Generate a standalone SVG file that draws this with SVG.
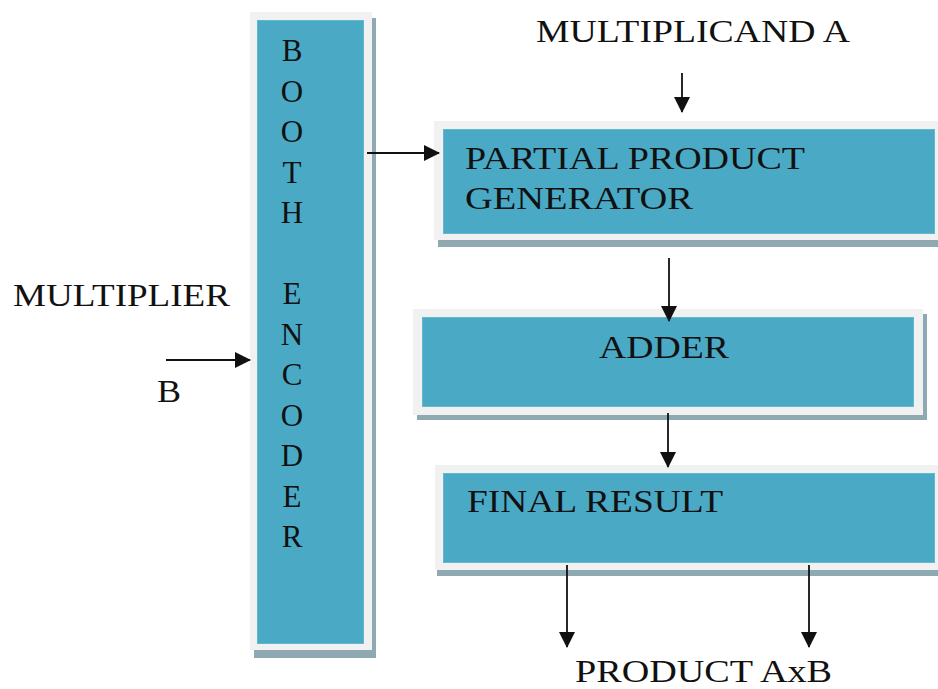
<svg xmlns="http://www.w3.org/2000/svg" width="938" height="689" viewBox="0 0 938 689">
  <style>
    .shadow { fill: #8fa9b3; }
    .frame { fill: #f1f1f1; }
    .panel { fill: #4aaac5; stroke: #62b8cf; stroke-width: 1; }
    .lbl { font-family: "Liberation Serif", "Tinos", "DejaVu Serif", serif; font-size: 31px; fill: #111; }
    .conn { stroke: #111; stroke-width: 1.8; fill: none; }
  </style>
  <defs>
    <marker id="arrow" viewBox="0 0 16 16" refX="15" refY="8" markerWidth="16" markerHeight="16" markerUnits="userSpaceOnUse" orient="auto">
      <path d="M0,0 L16,8 L0,16 Z" fill="#111"/>
    </marker>
  </defs>

  <rect width="938" height="689" fill="#ffffff"/>

  <!-- Booth encoder column -->
  <g id="booth-encoder">
    <rect class="shadow" x="254" y="18" width="122" height="640"/>
    <rect class="frame" x="250" y="12" width="122" height="638"/>
    <rect class="panel" x="257.5" y="20.5" width="106" height="623"/>
    <g class="lbl" text-anchor="middle">
      <text x="292" y="61">B</text>
      <text x="292" y="101.5">O</text>
      <text x="292" y="142">O</text>
      <text x="292" y="182.5">T</text>
      <text x="292" y="223">H</text>
      <text x="292" y="304">E</text>
      <text x="292" y="344.5">N</text>
      <text x="292" y="385">C</text>
      <text x="292" y="425.5">O</text>
      <text x="292" y="466">D</text>
      <text x="292" y="506.5">E</text>
      <text x="292" y="547">R</text>
    </g>
  </g>

  <!-- Partial product generator -->
  <g id="partial-product-generator">
    <rect class="shadow" x="438" y="127" width="510" height="120"/>
    <rect class="frame" x="434" y="121" width="510" height="119"/>
    <rect class="panel" x="443.5" y="129.5" width="491" height="104"/>
    <text class="lbl" x="465" y="169" textLength="340" lengthAdjust="spacingAndGlyphs">PARTIAL PRODUCT</text>
    <text class="lbl" x="465" y="209" textLength="228" lengthAdjust="spacingAndGlyphs">GENERATOR</text>
  </g>

  <!-- Adder -->
  <g id="adder">
    <rect class="shadow" x="417" y="314" width="510" height="106"/>
    <rect class="frame" x="413" y="309" width="510" height="106"/>
    <rect class="panel" x="422.5" y="317.5" width="491" height="89"/>
    <text class="lbl" x="599" y="358" textLength="130" lengthAdjust="spacingAndGlyphs">ADDER</text>
  </g>

  <!-- Final result -->
  <g id="final-result">
    <rect class="shadow" x="437" y="471" width="510" height="105"/>
    <rect class="frame" x="435" y="465" width="510" height="105"/>
    <rect class="panel" x="443.5" y="473.5" width="491" height="89"/>
    <text class="lbl" x="467" y="512" textLength="256" lengthAdjust="spacingAndGlyphs">FINAL RESULT</text>
  </g>

  <!-- Free labels -->
  <g id="multiplicand-label">
    <text class="lbl" x="536" y="42" textLength="314" lengthAdjust="spacingAndGlyphs">MULTIPLICAND A</text>
  </g>
  <g id="multiplier-label">
    <text class="lbl" x="13" y="306" textLength="217" lengthAdjust="spacingAndGlyphs">MULTIPLIER</text>
    <text class="lbl" x="157" y="402" textLength="24" lengthAdjust="spacingAndGlyphs">B</text>
  </g>
  <g id="product-label">
    <text class="lbl" x="575" y="682" font-size="30" textLength="257" lengthAdjust="spacingAndGlyphs">PRODUCT AxB</text>
  </g>

  <!-- Connectors -->
  <g id="connectors">
    <line class="conn" x1="682" y1="73" x2="682" y2="112" marker-end="url(#arrow)"/>
    <line class="conn" x1="367" y1="153" x2="439" y2="153" marker-end="url(#arrow)"/>
    <line class="conn" x1="166" y1="360" x2="250" y2="360" marker-end="url(#arrow)"/>
    <line class="conn" x1="669" y1="258" x2="669" y2="321" marker-end="url(#arrow)"/>
    <line class="conn" x1="668" y1="413" x2="668" y2="467" marker-end="url(#arrow)"/>
    <line class="conn" x1="567" y1="565" x2="567" y2="647" marker-end="url(#arrow)"/>
    <line class="conn" x1="809" y1="565" x2="809" y2="647" marker-end="url(#arrow)"/>
  </g>
</svg>
